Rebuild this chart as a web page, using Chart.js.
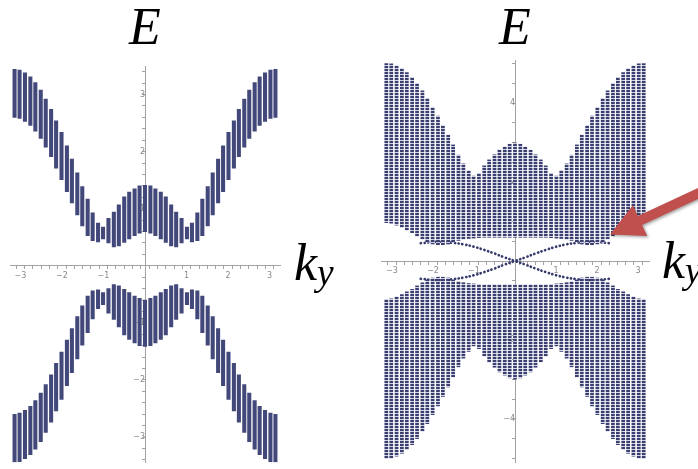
<!DOCTYPE html>
<html>
<head>
<meta charset="utf-8">
<script src="https://cdn.jsdelivr.net/npm/chart.js@4.4.0/dist/chart.umd.min.js"></script>
<style>
body { margin: 0; background: #fff; }
#wrap { position: relative; width: 698px; height: 469px; overflow: hidden; background: #fff; }
#wrap canvas { position: absolute; top: 0; }
#bandLeft { left: 0; }
#bandRight { left: 350px; }
.lbl { position: absolute; font-family: 'Liberation Serif', 'DejaVu Serif', serif; font-style: italic; color: #000; line-height: 1; font-size: 52px; white-space: nowrap; }
.lbl sub { font-size: 0.72em; vertical-align: -0.14em; }
</style>
</head>
<body>
<div id="wrap">
    <canvas id="bandLeft" width="349" height="469"></canvas>
    <canvas id="bandRight" width="348" height="469"></canvas>
    <div class="lbl" style="left:129px; top:1px;">E</div>
    <div class="lbl" style="left:499px; top:1px;">E</div>
    <div class="lbl" style="left:294px; top:237px;">k<sub>y</sub></div>
    <div class="lbl" style="left:662px; top:235px;">k<sub>y</sub></div>
</div>
<script>
// k_y of every column (same sampling in both panels)
const kValues = [-3.14, -3.02, -2.89, -2.76, -2.64, -2.51, -2.39, -2.26, -2.14, -2.01, -1.88, -1.76, -1.63,
    -1.51, -1.38, -1.26, -1.13, -1.01, -0.88, -0.75, -0.63, -0.50, -0.38, -0.25, -0.13, 0,
    0.13, 0.25, 0.38, 0.50, 0.63, 0.75, 0.88, 1.01, 1.13, 1.26, 1.38, 1.51, 1.63, 1.76, 1.88,
    2.01, 2.14, 2.26, 2.39, 2.51, 2.64, 2.76, 2.89, 3.02, 3.14];

// LINKS: Bänder mit Lücke
const leftUpperTop = [3.44, 3.43, 3.38, 3.31, 3.21, 3.08, 2.92, 2.74, 2.54, 2.34, 2.10, 1.87, 1.63,
    1.39, 1.17, 0.93, 0.75, 0.68, 0.83, 0.94, 1.07, 1.21, 1.29, 1.35, 1.40, 1.41,
    1.40, 1.35, 1.29, 1.21, 1.07, 0.94, 0.83, 0.68, 0.75, 0.93, 1.17, 1.39, 1.63, 1.87, 2.10,
    2.34, 2.54, 2.74, 2.92, 3.08, 3.21, 3.31, 3.38, 3.43, 3.44];
const leftUpperBottom = [2.60, 2.58, 2.53, 2.46, 2.36, 2.23, 2.08, 1.91, 1.71, 1.51, 1.30, 1.10, 0.89,
    0.70, 0.53, 0.44, 0.42, 0.47, 0.40, 0.33, 0.35, 0.41, 0.47, 0.53, 0.57, 0.60,
    0.57, 0.53, 0.47, 0.41, 0.35, 0.33, 0.40, 0.47, 0.42, 0.44, 0.53, 0.70, 0.89, 1.10, 1.30,
    1.51, 1.71, 1.91, 2.08, 2.23, 2.36, 2.46, 2.53, 2.58, 2.60];
const leftLowerTop = [-2.60, -2.58, -2.53, -2.46, -2.36, -2.23, -2.08, -1.91, -1.71, -1.51, -1.30, -1.10, -0.89,
    -0.70, -0.53, -0.44, -0.42, -0.47, -0.40, -0.33, -0.35, -0.41, -0.47, -0.53, -0.57, -0.60,
    -0.57, -0.53, -0.47, -0.41, -0.35, -0.33, -0.40, -0.47, -0.42, -0.44, -0.53, -0.70, -0.89, -1.10, -1.30,
    -1.51, -1.71, -1.91, -2.08, -2.23, -2.36, -2.46, -2.53, -2.58, -2.60];
const leftLowerBottom = [-3.44, -3.43, -3.38, -3.31, -3.21, -3.08, -2.92, -2.74, -2.54, -2.34, -2.10, -1.87, -1.63,
    -1.39, -1.17, -0.93, -0.75, -0.68, -0.83, -0.94, -1.07, -1.21, -1.29, -1.35, -1.40, -1.41,
    -1.40, -1.35, -1.29, -1.21, -1.07, -0.94, -0.83, -0.68, -0.75, -0.93, -1.17, -1.39, -1.63, -1.87, -2.10,
    -2.34, -2.54, -2.74, -2.92, -3.08, -3.21, -3.31, -3.38, -3.43, -3.44];

// RECHTS: Bänder mit Randzuständen
const rightUpperTop = [5.00, 4.99, 4.94, 4.87, 4.77, 4.65, 4.50, 4.31, 4.12, 3.89, 3.67, 3.43, 3.19,
    2.94, 2.68, 2.46, 2.29, 2.15, 2.22, 2.41, 2.56, 2.69, 2.81, 2.89, 2.96, 2.99,
    2.96, 2.89, 2.81, 2.69, 2.56, 2.41, 2.22, 2.15, 2.29, 2.46, 2.68, 2.94, 3.19, 3.43, 3.67,
    3.89, 4.12, 4.31, 4.50, 4.65, 4.77, 4.87, 4.94, 4.99, 5.00];
const rightUpperBottom = [0.97, 0.96, 0.91, 0.85, 0.78, 0.72, 0.63, 0.55, 0.48, 0.43, 0.41, 0.41, 0.43,
    0.48, 0.52, 0.55, 0.57, 0.58, 0.59, 0.60, 0.60, 0.60, 0.60, 0.60, 0.60, 0.60,
    0.60, 0.60, 0.60, 0.60, 0.60, 0.60, 0.59, 0.58, 0.57, 0.55, 0.52, 0.48, 0.43, 0.41, 0.41,
    0.43, 0.48, 0.55, 0.63, 0.72, 0.78, 0.85, 0.91, 0.96, 0.97];
const rightLowerTop = [-0.97, -0.96, -0.91, -0.85, -0.78, -0.72, -0.63, -0.55, -0.48, -0.43, -0.41, -0.41, -0.43,
    -0.48, -0.52, -0.55, -0.57, -0.58, -0.59, -0.60, -0.60, -0.60, -0.60, -0.60, -0.60, -0.60,
    -0.60, -0.60, -0.60, -0.60, -0.60, -0.60, -0.59, -0.58, -0.57, -0.55, -0.52, -0.48, -0.43, -0.41, -0.41,
    -0.43, -0.48, -0.55, -0.63, -0.72, -0.78, -0.85, -0.91, -0.96, -0.97];
const rightLowerBottom = [-5.00, -4.99, -4.94, -4.87, -4.77, -4.65, -4.50, -4.31, -4.12, -3.89, -3.67, -3.43, -3.19,
    -2.94, -2.68, -2.46, -2.29, -2.15, -2.22, -2.41, -2.56, -2.69, -2.81, -2.89, -2.96, -2.99,
    -2.96, -2.89, -2.81, -2.69, -2.56, -2.41, -2.22, -2.15, -2.29, -2.46, -2.68, -2.94, -3.19, -3.43, -3.67,
    -3.89, -4.12, -4.31, -4.50, -4.65, -4.77, -4.87, -4.94, -4.99, -5.00];

// Randzustände (kreuzen bei k=0)
const edgeK = [-2.3, -2.0, -1.75, -1.5, -1.25, -1.0, -0.75, -0.5, -0.25, 0, 0.25, 0.5, 0.75, 1.0, 1.25, 1.5, 1.75, 2.0, 2.3];
const edgeDown = [0.45, 0.48, 0.48, 0.46, 0.42, 0.36, 0.28, 0.19, 0.09, 0, -0.09, -0.19, -0.28, -0.36, -0.42, -0.46, -0.48, -0.48, -0.45];
const edgeUp = [-0.45, -0.48, -0.48, -0.46, -0.42, -0.36, -0.28, -0.19, -0.09, 0, 0.09, 0.19, 0.28, 0.36, 0.42, 0.46, 0.48, 0.48, 0.45];

const bandColor = '#43487a';
const axisGray = '#a3a3a3';
const labelGray = '#8a8a8a';

function columns(lo, hi) {
    return kValues.map((k, i) => ({ x: k, y: [lo[i], hi[i]] }));
}
function curve(ys) {
    return edgeK.map((k, i) => ({ x: k, y: ys[i] }));
}

// nur ganze Zahlen beschriften, die anderen Striche bleiben ohne Text
function wholeLabel(v, every) {
    const r = Math.round(v);
    if (Math.abs(v - r) > 1e-6 || r === 0 || r % every !== 0) return '';
    return r < 0 ? '\u2212' + (-r) : String(r);
}

function axes(xRange, yRange, yStep, yEvery) {
    const common = {
        type: 'linear',
        offset: false,
        border: { color: axisGray, width: 1 },
        grid: { drawOnChartArea: false, color: axisGray, tickLength: 3 },
    };
    return {
        x: Object.assign({}, common, {
            min: xRange[0], max: xRange[1],
            position: { y: 0 },
            ticks: {
                stepSize: 0.2, autoSkip: false, includeBounds: false, maxRotation: 0,
                padding: 2, color: labelGray, font: { size: 8, family: 'DejaVu Sans' },
                callback: v => wholeLabel(v, 1)
            }
        }),
        y: Object.assign({}, common, {
            min: yRange[0], max: yRange[1],
            position: { x: 0 },
            ticks: {
                stepSize: yStep, autoSkip: false, includeBounds: false,
                padding: 2, color: labelGray, font: { size: 8, family: 'DejaVu Sans' },
                callback: v => wholeLabel(v, yEvery)
            }
        })
    };
}

const baseOptions = {
    responsive: false,
    animation: false,
    grouped: false,
    plugins: { legend: { display: false }, tooltip: { enabled: false } },
    datasets: { bar: { barThickness: 3.4, borderWidth: 0 } }
};

//LINKS
new Chart(document.getElementById('bandLeft'), {
    type: 'bar',
    data: {
        datasets: [
            { data: columns(leftUpperBottom, leftUpperTop), backgroundColor: bandColor },
            { data: columns(leftLowerBottom, leftLowerTop), backgroundColor: bandColor }
        ]
    },
    options: Object.assign({}, baseOptions, {
        layout: { padding: { left: 10, right: 69, top: 66, bottom: 4 } },
        scales: axes([-3.25, 3.25], [-3.44, 3.5], 0.2, 1)
    })
});

//RECHTS
const rightCanvas = document.getElementById('bandRight');
function dotPattern(ctx) {
    const tile = document.createElement('canvas');
    tile.width = 4;
    tile.height = 3;
    const g = tile.getContext('2d');
    g.fillStyle = '#cfd1e3';
    g.fillRect(0, 0, 4, 3);
    g.fillStyle = '#3a3f70';
    g.fillRect(0, 0, 4, 2);
    return ctx.createPattern(tile, 'repeat');
}
const dots = dotPattern(rightCanvas.getContext('2d'));

// roter Pfeil auf die Bandkante
const arrowPlugin = {
    id: 'redArrow',
    afterDraw(chart) {
        const ctx = chart.ctx;
        const tx = chart.scales.x.getPixelForValue(2.32);
        const ty = chart.scales.y.getPixelForValue(0.67);
        const d = [0.907, -0.423];
        const n = [0.423, 0.907];
        const head = 33, headW = 17, shaftW = 5, len = 130;
        const bx = tx + d[0] * head, by = ty + d[1] * head;
        const ex = tx + d[0] * len, ey = ty + d[1] * len;
        ctx.save();
        ctx.shadowColor = 'rgba(0,0,0,0.35)';
        ctx.shadowBlur = 3;
        ctx.shadowOffsetX = 1.5;
        ctx.shadowOffsetY = 1.5;
        ctx.fillStyle = '#c0504d';
        ctx.beginPath();
        ctx.moveTo(tx, ty);
        ctx.lineTo(bx + n[0] * headW, by + n[1] * headW);
        ctx.lineTo(bx + n[0] * shaftW, by + n[1] * shaftW);
        ctx.lineTo(ex + n[0] * shaftW, ey + n[1] * shaftW);
        ctx.lineTo(ex - n[0] * shaftW, ey - n[1] * shaftW);
        ctx.lineTo(bx - n[0] * shaftW, by - n[1] * shaftW);
        ctx.lineTo(bx - n[0] * headW, by - n[1] * headW);
        ctx.closePath();
        ctx.fill();
        ctx.restore();
    }
};

const edgeStyle = {
    type: 'line',
    borderColor: '#363b6c',
    borderWidth: 2.7,
    borderCapStyle: 'round',
    borderDash: [0.1, 3.7],
    pointRadius: 0,
    tension: 0.4,
    fill: false
};

new Chart(rightCanvas, {
    type: 'bar',
    data: {
        datasets: [
            { data: columns(rightUpperBottom, rightUpperTop), backgroundColor: dots, barThickness: 3.1 },
            { data: columns(rightLowerBottom, rightLowerTop), backgroundColor: dots, barThickness: 3.1 },
            Object.assign({ data: curve(edgeDown) }, edgeStyle),
            Object.assign({ data: curve(edgeUp) }, edgeStyle)
        ]
    },
    options: Object.assign({}, baseOptions, {
        layout: { padding: { left: 31, right: 49, top: 60, bottom: 7 } },
        scales: axes([-3.27, 3.27], [-5.09, 5.09], 0.5, 2)
    }),
    plugins: [arrowPlugin]
});
</script>
</body>
</html>
